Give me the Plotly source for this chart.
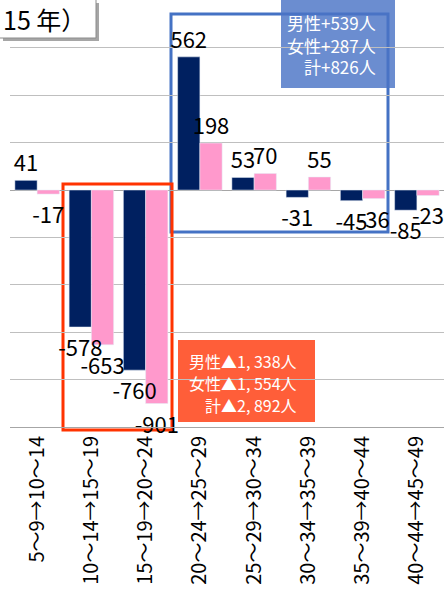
import plotly.graph_objects as go

categories = ["5～9→10～14", "10～14→15～19", "15～19→20～24", "20～24→25～29",
              "25～29→30～34", "30～34→35～39", "35～39→40～44", "40～44→45～49"]
male = [41, -578, -760, 562, 53, -31, -45, -85]
female = [-17, -653, -901, 198, 70, 55, -36, -23]
tick_vals = [-1000, -800, -600, -400, -200, 0, 200, 400, 600]

FONT = "Liberation Sans Narrow, Noto Sans CJK JP, sans-serif"
CJK = "Noto Sans CJK JP, Liberation Sans Narrow, sans-serif"

fig = go.Figure()
# bars
fig.add_trace(go.Bar(x=categories, y=male, name="男性", marker_color="#002060",
                     offsetgroup="m", hoverinfo="skip"))
fig.add_trace(go.Bar(x=categories, y=female, name="女性", marker_color="#FF99CC",
                     offsetgroup="f", hoverinfo="skip"))
# data labels drawn on top of all bars
for vals, grp in ((male, "m"), (female, "f")):
    fig.add_trace(go.Bar(x=categories, y=vals, offsetgroup=grp,
                         marker=dict(color="rgba(0,0,0,0)", line=dict(width=0)),
                         text=[str(v) for v in vals], textposition="outside",
                         constraintext="none", cliponaxis=False, hoverinfo="skip",
                         textfont=dict(family=FONT, size=22, color="black")))

W, H = 444, 592
L, R, T, B = 10, 0, 0, 165
pw, ph = W - L - R, H - T - B


def px(x):
    return (x - L) / pw


def py(y):
    return (H - B - y) / ph


shapes = [
    # title box shadow and box
    dict(type="rect", xref="paper", yref="paper", x0=px(3), x1=px(99), y0=py(41), y1=py(3),
         fillcolor="#A6A6A6", line=dict(width=0), layer="above"),
    dict(type="rect", xref="paper", yref="paper", x0=px(-2), x1=px(96), y0=py(38), y1=py(-2),
         fillcolor="white", line=dict(color="#8C8C8C", width=1), layer="above"),
    # blue frame
    dict(type="rect", xref="paper", yref="paper", x0=px(171), x1=px(388), y0=py(232), y1=py(14),
         line=dict(color="#4472C4", width=3), fillcolor="rgba(0,0,0,0)", layer="between"),
    dict(type="rect", xref="paper", yref="paper", x0=px(281), x1=px(395), y0=py(88), y1=py(-2),
         fillcolor="rgba(74,116,198,0.82)", line=dict(width=0), layer="between"),
    # red frame
    dict(type="rect", xref="paper", yref="paper", x0=px(63), x1=px(172), y0=py(430), y1=py(184),
         line=dict(color="#FF3300", width=3), fillcolor="rgba(0,0,0,0)", layer="between"),
    dict(type="rect", xref="paper", yref="paper", x0=px(178), x1=px(315), y0=py(422), y1=py(340),
         fillcolor="rgba(255,80,40,0.92)", line=dict(width=0), layer="between"),
]

annotations = [
    dict(xref="paper", yref="paper", x=px(1), y=py(19), xanchor="left", yanchor="middle",
         text="15 年）", showarrow=False, font=dict(family=CJK, size=25, color="black")),
]
blue_lines = ["男性+539人", "女性+287人", "計+826人"]
for i, t in enumerate(blue_lines):
    annotations.append(dict(xref="paper", yref="paper", x=px(378), y=py(23 + 22 * i),
                            xanchor="right", yanchor="middle", text=t, showarrow=False,
                            font=dict(family=CJK, size=17, color="white")))
red_lines = ["男性▲1, 338人", "女性▲1, 554人", "計▲2, 892人"]
for i, t in enumerate(red_lines):
    annotations.append(dict(xref="paper", yref="paper", x=px(299), y=py(361 + 22 * i),
                            xanchor="right", yanchor="middle", text=t, showarrow=False,
                            font=dict(family=CJK, size=16, color="white")))

fig.update_layout(
    width=W, height=H, margin=dict(l=L, r=R, t=T, b=B, autoexpand=False),
    paper_bgcolor="white", plot_bgcolor="white",
    barmode="group", bargap=0.18, bargroupgap=0,
    showlegend=False, shapes=shapes, annotations=annotations,
    font=dict(family=FONT, color="black"),
)
fig.update_xaxes(tickangle=-90, tickfont=dict(family=FONT, size=20, color="black"),
                 showline=True, linecolor="#A6A6A6", linewidth=1, ticks="",
                 showgrid=False, automargin=False)
fig.update_yaxes(range=[-1000, 802], tickvals=tick_vals, showticklabels=False,
                 showgrid=True, gridcolor="#BFBFBF", gridwidth=1, automargin=False,
                 zeroline=True, zerolinecolor="#A6A6A6", zerolinewidth=1)

fig.write_html("out.html", config={"displayModeBar": False},
               post_script="document.body.style.margin='0';")
